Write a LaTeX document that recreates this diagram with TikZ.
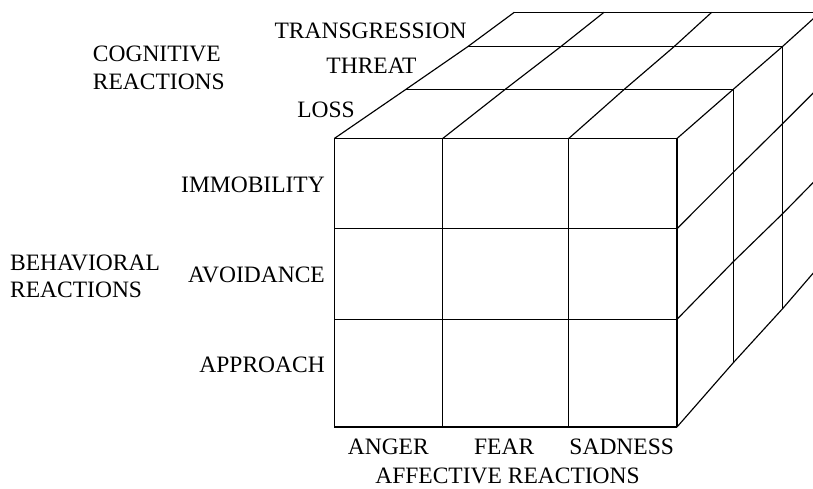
\documentclass[tikz,border=0pt]{standalone}
\usepackage{fontspec}
\setmainfont{Liberation Serif}
\begin{document}
\begin{tikzpicture}[x=1pt,y=-1pt,
  edge/.style={line width=1.15pt,line join=miter},
  lbl/.style={inner sep=0pt,font=\fontsize{23.5}{26}\selectfont},
  lblr/.style={lbl,anchor=base east},
  lbll/.style={lbl,anchor=base west},
  lblc/.style={lbl,anchor=base}]
\useasboundingbox (0,0) rectangle (813,489);
\begin{scope}
\clip (0,0) rectangle (813,489);
% front face
\foreach \x in {334.3,442.7,568.7,677}
  \draw[edge] (\x,138.5) -- (\x,427);
\foreach \y in {138.5,228.7,319.3,427}
  \draw[edge] (334.3,\y) -- (677,\y);
% top face: depth lines
\draw[edge] (334.3,138.5) -- (406,89.3) -- (467.7,46.7) -- (514.3,12.3);
\draw[edge] (442.7,138.5) -- (505.3,89.3) -- (560.7,46.7) -- (604,12.3);
\draw[edge] (568.7,138.5) -- (624.3,89.3) -- (674,46.7) -- (711.7,12.3);
\draw[edge] (677,138.5) -- (733.3,89.3) -- (782.3,46.7) -- (820.4,12.3);
% top face: cross lines
\draw[edge] (406,89.3) -- (733.3,89.3);
\draw[edge] (467.7,46.7) -- (782.3,46.7);
\draw[edge] (514.3,12.3) -- (830,12.3);
% right face
\draw[edge] (733.3,89.3) -- (733.3,362.7);
\draw[edge] (782.3,46.7) -- (782.3,309);
\draw[edge] (677,228.7) -- (733.3,172.3) -- (782.3,124) -- (820,86.3);
\draw[edge] (677,319.3) -- (733.3,261.7) -- (782.3,214) -- (820,175.6);
\draw[edge] (677,427) -- (733.3,362.7) -- (782.3,309) -- (820,265.2);
\end{scope}
% labels: cognitive
\node[lblr] (trans) at (466.7,38.3) {TRANSGRESSION};
\node[lblr] (threat) at (416.7,73.3) {THREAT};
\node[lblr] (loss) at (355,117.3) {LOSS};
\node[lbll] (cog1) at (92.7,61.7) {COGNITIVE};
\node[lbll] (cog2) at (92.7,89.3) {REACTIONS};
% labels: behavioral
\node[lblr] (immob) at (325,192.3) {IMMOBILITY};
\node[lblr] (avoid) at (325,282.7) {AVOIDANCE};
\node[lblr] (appr) at (325,372.3) {APPROACH};
\node[lbll] (beh1) at (10,270) {BEHAVIORAL};
\node[lbll] (beh2) at (10,297.3) {REACTIONS};
% labels: affective
\node[lblc] (anger) at (388.3,454) {ANGER};
\node[lblc] (fear) at (504.2,454) {FEAR};
\node[lblc] (sad) at (621.7,454) {SADNESS};
\node[lblc] (aff) at (507.5,483.3) {AFFECTIVE REACTIONS};
\end{tikzpicture}
\end{document}
